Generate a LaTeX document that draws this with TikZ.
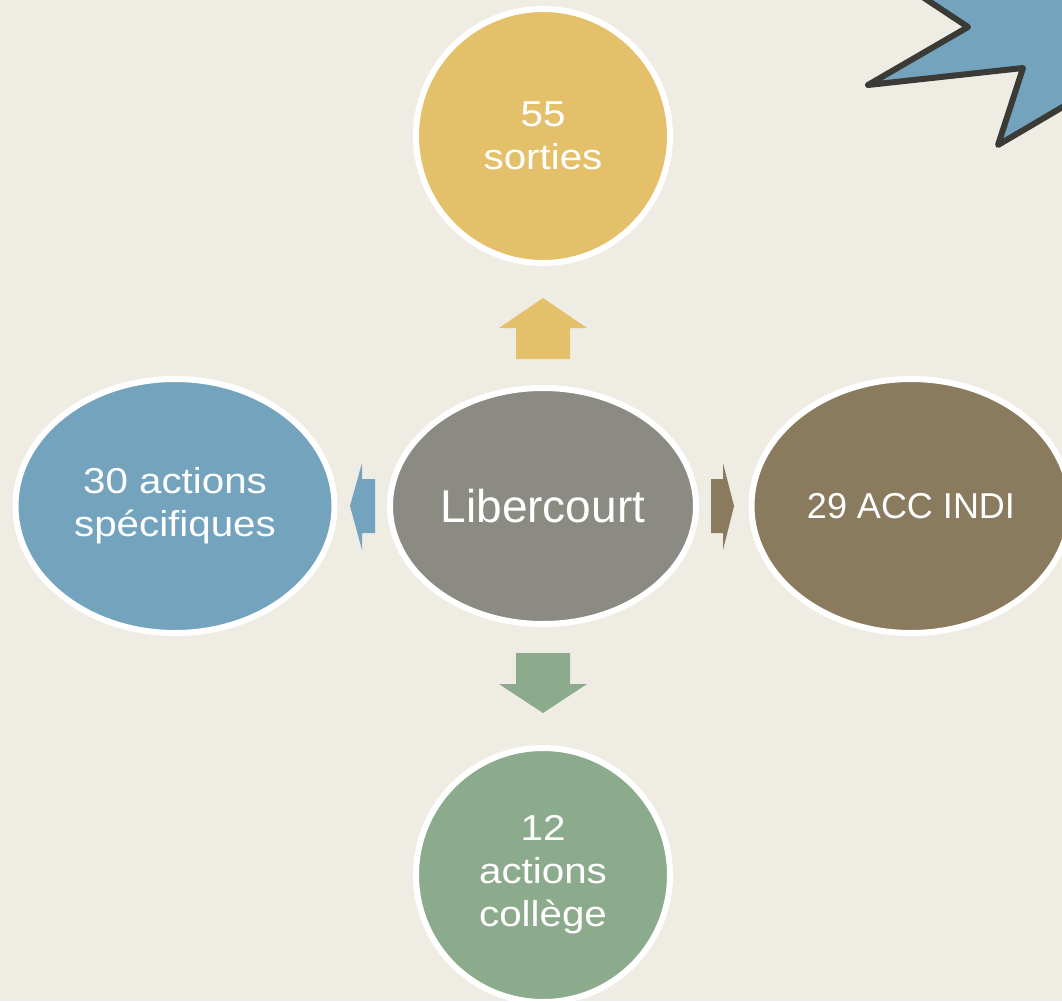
\documentclass[tikz,border=0pt]{standalone}
\usepackage{fontspec}
\setmainfont{Liberation Sans}
\newfontfamily\widefont[FakeStretch=1.12]{Liberation Sans}
\usetikzlibrary{shapes.geometric}

\definecolor{paper}{HTML}{EFECE4}
\definecolor{sortiecol}{HTML}{E5C06B}
\definecolor{centercol}{HTML}{8B8B83}
\definecolor{specol}{HTML}{74A3BE}
\definecolor{acccol}{HTML}{8A7B5F}
\definecolor{collcol}{HTML}{8CAB8D}
\definecolor{starline}{HTML}{3A3A36}

\begin{document}
\begin{tikzpicture}[x=1pt, y=-1pt, bubble/.style={
  % The shape:
  ellipse,
  % The size:
  inner sep=0pt,
  % The border
  line width=6pt, draw=white,
      text=white,
      align=center,
      font=\widefont\fontsize{36}{43}\selectfont}]
  \useasboundingbox (0,0) rectangle (1062,1001);
  \fill [paper] (0,0) rectangle (1062,1001);

  % star in the corner, cut by the page edge
  \begin{scope}
    \clip (0,0) rectangle (1062,1001);
    \draw [fill = specol, draw = starline, line width=6pt, line join=round]
      (900,-18) -- (968,27) -- (868,85) -- (1023,68) -- (998,145) -- (1100,85)
      -- (1100,-30) -- cycle;
  \end{scope}

  \node (center) [fill = centercol, bubble, minimum width=306pt, minimum height=236pt,
    font=\rmfamily\fontsize{46}{50}\selectfont] at (543,506) {Libercourt};
  \node (sorties) [fill = sortiecol, bubble, circle, minimum size=254pt] at (543,136) {55\\ sorties};
  \node (specif) [fill = specol, bubble, minimum width=319pt, minimum height=254pt] at (175,506) {30 actions\\ spécifiques};
  \node (accindi) [fill = acccol, bubble, minimum width=319pt, minimum height=254pt,
    font=\rmfamily\fontsize{36}{43}\selectfont] at (911,506) {29 ACC INDI};
  \node (college) [fill = collcol, bubble, circle, minimum size=254pt] at (543,875) {12\\ actions\\ collège};

  % block arrows
  \fill [sortiecol] (516,359) -- (516,328) -- (499,328) -- (543,298) -- (587,328) -- (570,328) -- (570,359) -- cycle;
  \fill [collcol] (516,653) -- (516,684) -- (499,684) -- (543,713) -- (587,684) -- (570,684) -- (570,653) -- cycle;
  \fill [specol] (375,479) -- (362,479) -- (362,463) -- (350,506) -- (362,550) -- (362,533) -- (375,533) -- cycle;
  \fill [acccol] (711,479) -- (723,479) -- (723,463) -- (734,506) -- (723,550) -- (723,533) -- (711,533) -- cycle;

  \end{tikzpicture}
\end{document}
